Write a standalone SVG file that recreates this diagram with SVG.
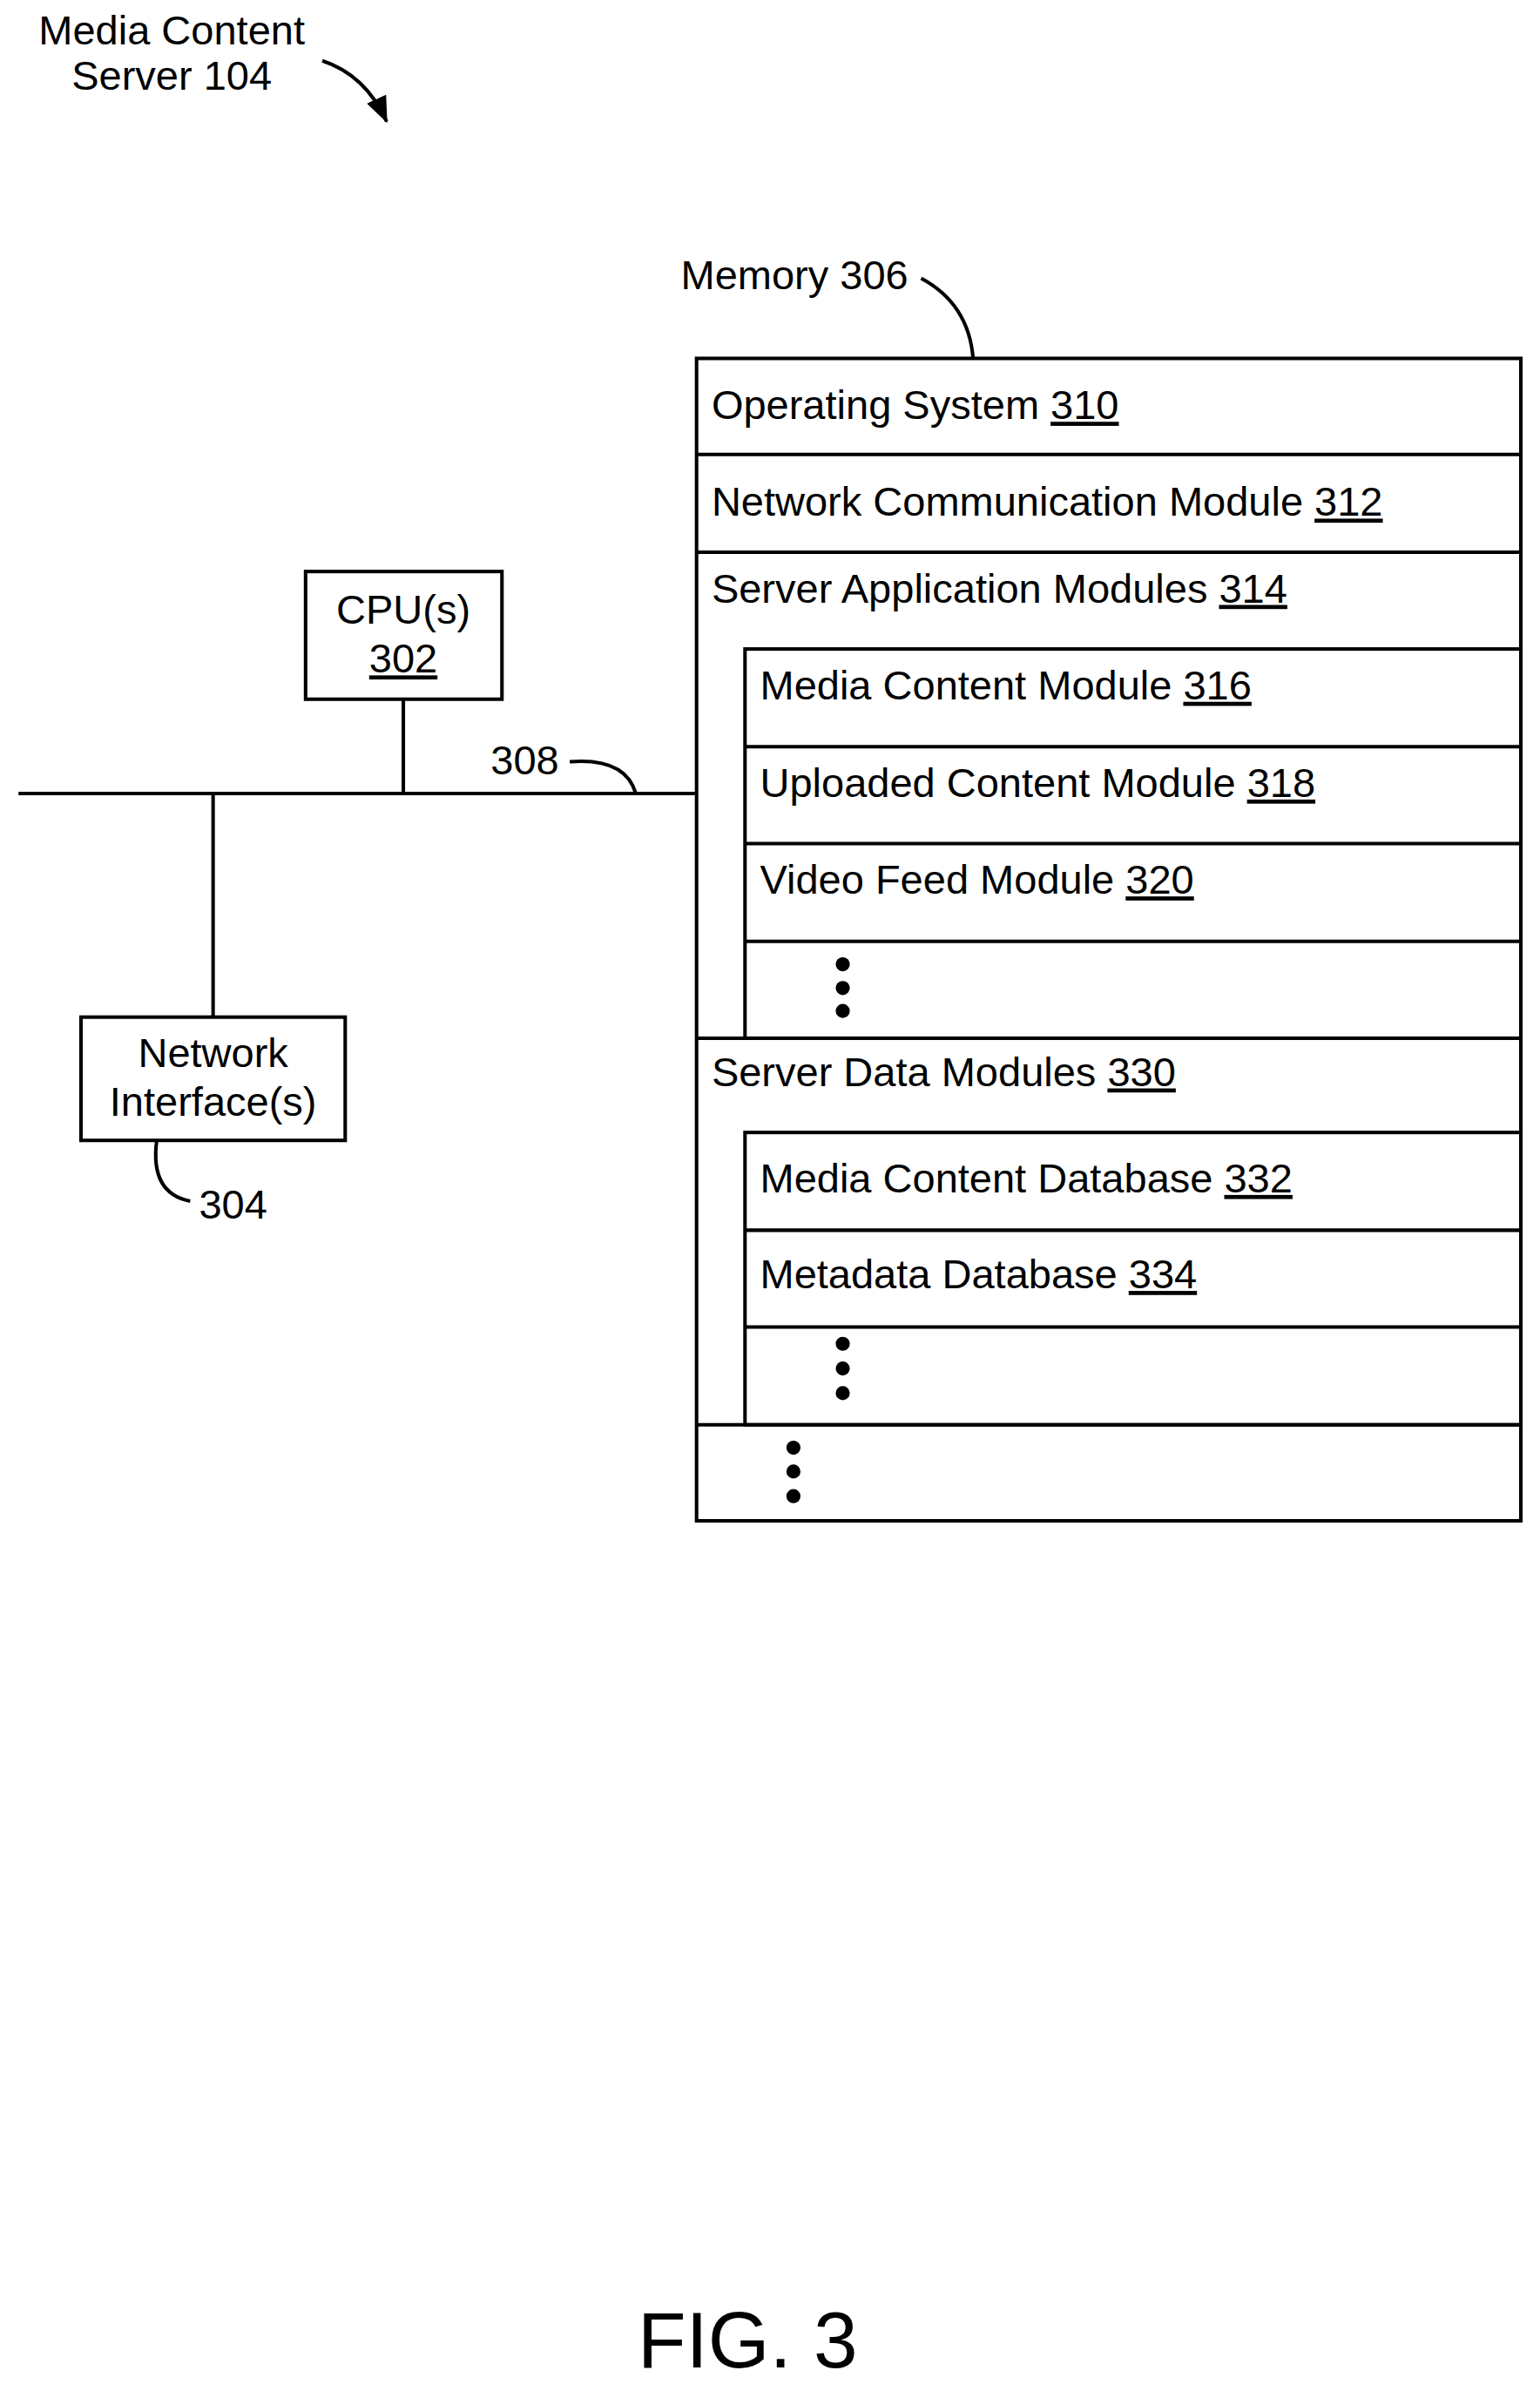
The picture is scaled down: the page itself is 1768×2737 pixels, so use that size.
<svg xmlns="http://www.w3.org/2000/svg" width="1768" height="2737" viewBox="0 0 1768 2737">
<style>
text{font-family:"Liberation Sans",Arial,sans-serif;font-size:46.5px;fill:#000}
.u{text-decoration:underline}
.b{fill:#fff;stroke:#000;stroke-width:4}
.l{fill:none;stroke:#000;stroke-width:4}
</style>
<defs>
<marker id="a2" markerWidth="30" markerHeight="30" refX="28" refY="15" orient="auto" markerUnits="userSpaceOnUse" viewBox="0 0 30 30"><path d="M0,3 L30,15 L0,27 z"/></marker></defs>
<g transform="scale(1.011)">
<g id="title"><text x="195" y="50" text-anchor="middle">Media Content</text><text x="195" y="102" text-anchor="middle">Server 104</text></g>
<g id="connectors">
<path class="l" d="M366,69 Q415,85 439,138" marker-end="url(#a2)"/>
<line class="l" x1="21" y1="901" x2="791" y2="901"/>
<line class="l" x1="458" y1="794" x2="458" y2="901"/>
<line class="l" x1="242" y1="901" x2="242" y2="1155"/>
<path class="l" d="M647,865 Q710,860 722,901"/>
<path class="l" d="M178,1295 Q170,1355 216,1364"/>
<path class="l" d="M1046,316 Q1100,345 1105,407"/>
</g>
<g id="cpu"><rect class="b" x="347" y="649" width="223" height="145"/><text x="458" y="708" text-anchor="middle">CPU(s)</text><text x="458" y="764" text-anchor="middle" class="u">302</text></g>
<g id="netif"><rect class="b" x="92" y="1155" width="300" height="140"/><text x="242" y="1212" text-anchor="middle">Network</text><text x="242" y="1267" text-anchor="middle">Interface(s)</text></g>
<g id="labels"><text x="596" y="879" text-anchor="middle">308</text><text x="226" y="1384">304</text><text x="773" y="328">Memory 306</text></g>
<g id="memory">
<rect class="b" x="791" y="407" width="936" height="1320"/>
<rect class="b" x="846" y="737" width="881" height="442"/>
<rect class="b" x="846" y="1286" width="881" height="332"/>
<g class="l"><line x1="791" y1="516" x2="1727" y2="516"/><line x1="791" y1="627" x2="1727" y2="627"/><line x1="846" y1="848" x2="1727" y2="848"/><line x1="846" y1="958" x2="1727" y2="958"/><line x1="846" y1="1069" x2="1727" y2="1069"/><line x1="791" y1="1179" x2="1727" y2="1179"/><line x1="846" y1="1397" x2="1727" y2="1397"/><line x1="846" y1="1507" x2="1727" y2="1507"/><line x1="791" y1="1618" x2="1727" y2="1618"/></g>
<text x="808" y="476">Operating System <tspan class="u">310</tspan></text>
<text x="808" y="586">Network Communication Module <tspan class="u">312</tspan></text>
<text x="808" y="684">Server Application Modules <tspan class="u">314</tspan></text>
<text x="863" y="794">Media Content Module <tspan class="u">316</tspan></text>
<text x="863" y="905">Uploaded Content Module <tspan class="u">318</tspan></text>
<text x="863" y="1015">Video Feed Module <tspan class="u">320</tspan></text>
<text x="808" y="1233">Server Data Modules <tspan class="u">330</tspan></text>
<text x="863" y="1354">Media Content Database <tspan class="u">332</tspan></text>
<text x="863" y="1463">Metadata Database <tspan class="u">334</tspan></text>
<circle cx="957" cy="1095" r="8"/><circle cx="957" cy="1122" r="8"/><circle cx="957" cy="1148" r="8"/>
<circle cx="957" cy="1526" r="8"/><circle cx="957" cy="1554" r="8"/><circle cx="957" cy="1582" r="8"/>
<circle cx="901" cy="1644" r="8"/><circle cx="901" cy="1671" r="8"/><circle cx="901" cy="1699" r="8"/>
</g>
<g id="fig"><text x="849" y="2688" text-anchor="middle" style="font-size:90px">FIG. 3</text></g>
</g>
</svg>
